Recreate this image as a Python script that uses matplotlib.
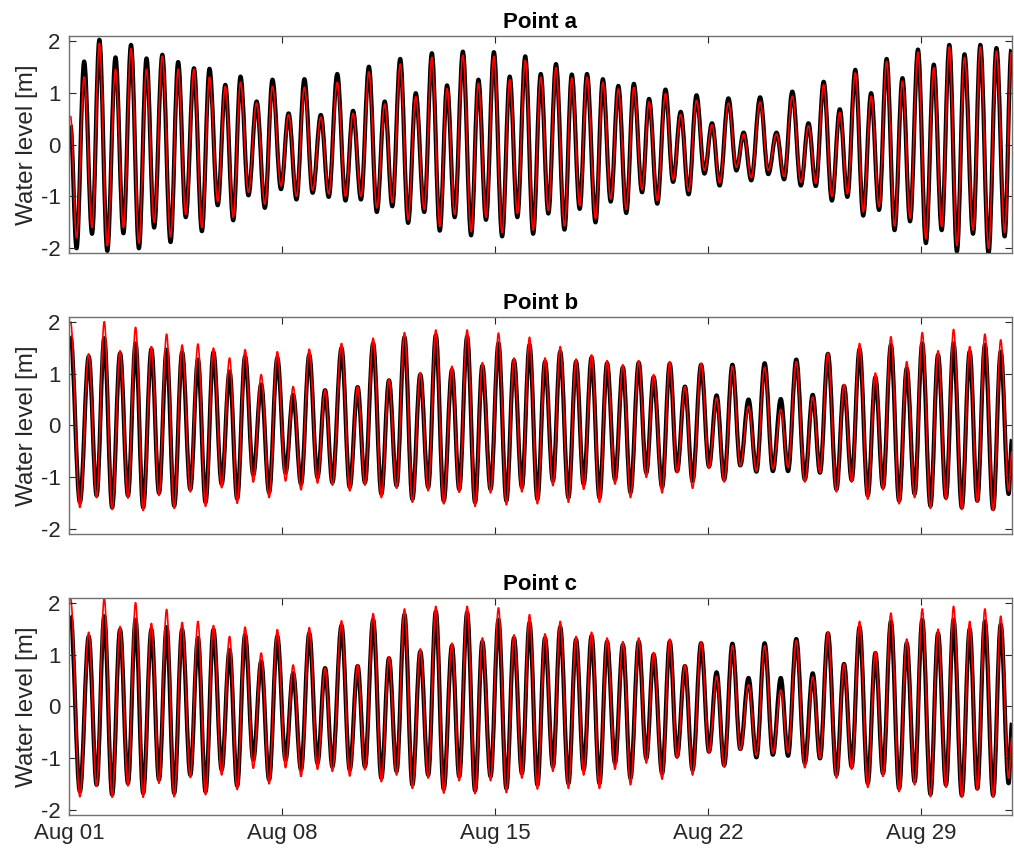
import matplotlib
matplotlib.use("Agg")
import matplotlib.pyplot as plt
from matplotlib.path import Path
from matplotlib.patches import PathPatch

plt.rcParams['font.family'] = ['Liberation Sans', 'DejaVu Sans']

# times of the turning points (days after Aug 01 00:00)
time_a = [0.05, 0.25, 0.50, 0.76, 1.00, 1.26, 1.53, 1.79, 2.04, 2.30, 2.55, 2.80,
          3.07, 3.34, 3.59, 3.84, 4.11, 4.37, 4.62, 4.89, 5.14, 5.40, 5.64, 5.90,
          6.17, 6.44, 6.69, 6.97, 7.22, 7.48, 7.74, 8.01, 8.28, 8.54, 8.82,
          9.09, 9.34, 9.60, 9.86, 10.12, 10.38, 10.63, 10.89, 11.15, 11.40, 11.68,
          11.93, 12.19, 12.43, 12.68, 12.95, 13.22, 13.46, 13.71, 13.97, 14.24,
          14.49, 14.74, 15.00, 15.26, 15.51, 15.76, 16.01, 16.29, 16.53, 16.79,
          17.03, 17.31, 17.55, 17.81, 18.06, 18.32, 18.57, 18.84, 19.07, 19.34, 19.61,
          19.86, 20.11, 20.37, 20.63, 20.89, 21.14, 21.39, 21.68, 21.94, 22.18,
          22.43, 22.72, 22.99, 23.26, 23.51, 23.78, 24.06, 24.31, 24.55, 24.81,
          25.08, 25.34, 25.59, 25.85, 26.11, 26.37, 26.63, 26.88, 27.14, 27.40,
          27.65, 27.91, 28.17, 28.43, 28.69, 28.94, 29.19, 29.44, 29.72, 29.96,
          30.23, 30.49, 30.76, 30.98]

time_bc = [0.05, 0.36, 0.65, 0.91, 1.16, 1.42, 1.68, 1.94, 2.19, 2.44, 2.71, 2.96,
           3.21, 3.46, 3.72, 3.99, 4.24, 4.49, 4.75, 5.02, 5.28, 5.53, 5.79, 6.06,
           6.32, 6.58, 6.85, 7.12, 7.37, 7.63, 7.90, 8.17, 8.42,
           8.66, 8.96, 9.23, 9.49, 9.73, 10.00, 10.27, 10.52, 10.77, 11.03, 11.29,
           11.55, 11.81, 12.06, 12.32, 12.59, 12.83, 13.09, 13.35, 13.59, 13.86,
           14.12, 14.38, 14.63, 14.89, 15.14, 15.40, 15.65, 15.91, 16.15, 16.42,
           16.67, 16.92, 17.18, 17.44, 17.69, 17.95, 18.21, 18.46, 18.73, 18.98,
           19.22, 19.50,
           19.75, 19.99, 20.25, 20.50, 20.78, 21.04, 21.29, 21.54, 21.81, 22.07,
           22.34, 22.60, 22.87, 23.14, 23.40, 23.64, 23.91, 24.19, 24.45, 24.69,
           24.95, 25.23, 25.48, 25.73, 25.99, 26.26, 26.51, 26.76, 27.02, 27.29,
           27.54, 27.80, 28.05, 28.32, 28.57, 28.83, 29.08, 29.35, 29.61, 29.86,
           30.11, 30.38, 30.63, 30.89, 31.00]

# Point a
obs_a = [0.37, -2.0, 1.6, -1.72, 2.02, -2.05, 1.68, -1.71, 1.92, -2.0, 1.66, -1.6,
         1.73, -1.88, 1.59, -1.4, 1.47, -1.67, 1.46, -1.17, 1.15, -1.46, 1.31, -0.98,
         0.83, -1.22, 1.25, -0.86, 0.6, -1.06, 1.26, -0.93, 0.57, -1.01, 1.36,
         -1.08, 0.65, -1.06, 1.5, -1.3, 0.83, -1.19, 1.65, -1.51, 0.99, -1.3, 1.76,
         -1.66, 1.14, -1.4, 1.79, -1.75, 1.25, -1.45, 1.78, -1.77, 1.31, -1.4, 1.7,
         -1.72, 1.36, -1.33, 1.55, -1.64, 1.35, -1.24, 1.36, -1.5, 1.26, -1.1, 1.13,
         -1.32, 1.17, -0.92, 0.88, -1.14, 1.06,
         -0.72, 0.63, -0.96, 0.95, -0.56, 0.41, -0.79, 0.89, -0.5, 0.23, -0.69, 0.91,
         -0.57, 0.23, -0.67, 1.02, -0.79, 0.41, -0.8, 1.21, -1.08, 0.68, -1.01, 1.44,
         -1.37, 0.99, -1.26, 1.65, -1.65, 1.28, -1.48, 1.83, -1.9, 1.54, -1.65, 1.92,
         -2.06, 1.74, -1.72, 1.92, -2.1, 1.86, -1.77, 1.83]
model_a = [0.55, -1.8, 1.3, -1.6, 1.95, -1.95, 1.45, -1.6, 1.85, -1.9, 1.45, -1.5,
           1.7, -1.78, 1.45, -1.35, 1.45, -1.6, 1.3, -1.1, 1.12, -1.4, 1.2, -0.92,
           0.8, -1.15, 1.12, -0.8, 0.58, -1.0, 1.1, -0.88, 0.53, -0.95, 1.2,
           -1.0, 0.6, -1.0, 1.4, -1.22, 0.78, -1.12, 1.55, -1.45, 0.92, -1.25, 1.68,
           -1.58, 1.08, -1.35, 1.72, -1.68, 1.18, -1.4, 1.7, -1.7, 1.25, -1.33, 1.62,
           -1.65, 1.3, -1.27, 1.48, -1.57, 1.28, -1.18, 1.3, -1.43, 1.2, -1.05, 1.07,
           -1.25, 1.1, -0.87, 0.82, -1.08, 0.98,
           -0.68, 0.58, -0.9, 0.85, -0.5, 0.38, -0.74, 0.8, -0.44, 0.2, -0.64, 0.82,
           -0.5, 0.2, -0.62, 0.93, -0.73, 0.36, -0.75, 1.15, -1.0, 0.62, -0.95, 1.38,
           -1.3, 0.93, -1.2, 1.6, -1.57, 1.22, -1.42, 1.78, -1.82, 1.48, -1.58, 1.88,
           -1.95, 1.68, -1.65, 1.88, -2.0, 1.8, -1.7, 1.78]

# Point b
obs_b = [1.72, -1.48, 1.33, -1.35, 1.68, -1.58, 1.39, -1.35, 1.58, -1.58, 1.47, -1.3,
         1.46, -1.55, 1.41, -1.23, 1.27, -1.48, 1.41, -1.13, 1.04, -1.41, 1.33, -0.95,
         0.79, -1.29, 1.3, -0.91, 0.59, -1.13, 1.36, -1.0, 0.68,
         -1.1, 1.49, -1.19, 0.74, -1.1, 1.58, -1.32, 0.87, -1.16, 1.7, -1.42, 0.98,
         -1.19, 1.74, -1.45, 1.07, -1.23, 1.71, -1.48, 1.15, -1.23, 1.58, -1.45, 1.25,
         -1.19, 1.55, -1.42, 1.23, -1.07, 1.42, -1.39, 1.23, -1.13, 1.31, -1.39, 1.2,
         -1.04, 1.12, -1.29, 1.21, -0.91, 0.93, -1.19,
         1.19, -0.88, 0.75, -1.07, 1.17, -0.79, 0.58, -1.04, 1.17, -0.77, 0.5, -0.89,
         1.2, -0.88, 0.51, -0.88, 1.27, -1.04, 0.59, -0.91, 1.38, -1.23, 0.76, -1.05,
         1.47, -1.35, 0.93, -1.19, 1.55, -1.45, 1.1, -1.32, 1.58, -1.55, 1.36, -1.39,
         1.58, -1.58, 1.42, -1.45, 1.55, -1.61, 1.42, -1.32, -0.27]
model_b = [2.0, -1.58, 1.38, -1.39, 2.0, -1.62, 1.44, -1.4, 1.89, -1.64, 1.52, -1.35,
           1.76, -1.6, 1.55, -1.28, 1.57, -1.56, 1.49, -1.2, 1.3, -1.5, 1.46, -1.09,
           0.98, -1.39, 1.42, -1.07, 0.75, -1.24, 1.47, -1.11, 0.69,
           -1.15, 1.58, -1.26, 0.75, -1.15, 1.68, -1.39, 0.89, -1.21, 1.79, -1.48, 1.02,
           -1.26, 1.84, -1.51, 1.14, -1.29, 1.84, -1.56, 1.21, -1.3, 1.78, -1.53, 1.3,
           -1.28, 1.7, -1.51, 1.3, -1.16, 1.52, -1.48, 1.28, -1.23, 1.36, -1.48, 1.25,
           -1.13, 1.17, -1.39, 1.25, -1.0, 0.98, -1.3,
           1.23, -0.91, 0.75, -1.21, 1.2, -0.83, 0.53, -1.09, 1.14, -0.78, 0.37, -0.88,
           1.12, -0.84, 0.31, -0.81, 1.23, -1.09, 0.55, -0.91, 1.39, -1.28, 0.79, -1.09,
           1.58, -1.42, 1.01, -1.24, 1.71, -1.51, 1.23, -1.39, 1.79, -1.6, 1.44, -1.43,
           1.85, -1.62, 1.52, -1.48, 1.76, -1.64, 1.65, -1.26, -0.5]

# Point c
obs_c = [1.75, -1.64, 1.35, -1.51, 1.74, -1.7, 1.48, -1.48, 1.67, -1.67, 1.48, -1.41,
         1.53, -1.67, 1.48, -1.32, 1.32, -1.64, 1.48, -1.22, 1.09, -1.53, 1.38, -1.03,
         0.87, -1.41, 1.35, -1.03, 0.64, -1.22, 1.41, -1.09, 0.74,
         -1.16, 1.56, -1.22, 0.78, -1.16, 1.67, -1.38, 0.93, -1.25, 1.77, -1.51, 1.06,
         -1.32, 1.83, -1.59, 1.17, -1.35, 1.81, -1.62, 1.25, -1.35, 1.67, -1.58, 1.32,
         -1.29, 1.61, -1.51, 1.32, -1.16, 1.53, -1.48, 1.29, -1.22, 1.36, -1.48, 1.25,
         -1.09, 1.19, -1.38, 1.25, -1.0, 1.0, -1.29,
         1.25, -0.96, 0.78, -1.22, 1.22, -0.87, 0.66, -1.13, 1.21, -0.82, 0.55, -0.98,
         1.22, -0.93, 0.55, -0.95, 1.3, -1.09, 0.64, -1.0, 1.41, -1.32, 0.82, -1.16,
         1.53, -1.48, 1.03, -1.29, 1.64, -1.58, 1.22, -1.45, 1.67, -1.69, 1.41, -1.51,
         1.67, -1.71, 1.49, -1.58, 1.64, -1.71, 1.58, -1.48, -0.32]
model_c = [2.09, -1.74, 1.43, -1.54, 2.09, -1.75, 1.54, -1.53, 2.0, -1.75, 1.6, -1.48,
           1.87, -1.74, 1.62, -1.37, 1.64, -1.7, 1.56, -1.32, 1.35, -1.6, 1.53, -1.19,
           1.03, -1.49, 1.48, -1.18, 0.8, -1.35, 1.52, -1.21, 0.74,
           -1.25, 1.65, -1.34, 0.8, -1.22, 1.79, -1.45, 0.96, -1.32, 1.88, -1.58, 1.11,
           -1.38, 1.93, -1.67, 1.22, -1.43, 1.93, -1.68, 1.32, -1.43, 1.9, -1.66, 1.38,
           -1.38, 1.77, -1.59, 1.4, -1.25, 1.64, -1.58, 1.35, -1.32, 1.43, -1.58, 1.32,
           -1.21, 1.25, -1.51, 1.32, -1.09, 1.04, -1.4,
           1.3, -1.0, 0.8, -1.32, 1.25, -0.9, 0.58, -1.17, 1.17, -0.84, 0.42, -0.95,
           1.17, -0.9, 0.32, -0.89, 1.27, -1.18, 0.57, -1.0, 1.43, -1.38, 0.82, -1.21,
           1.64, -1.56, 1.06, -1.35, 1.8, -1.64, 1.3, -1.51, 1.88, -1.74, 1.49, -1.56,
           1.93, -1.75, 1.64, -1.61, 1.88, -1.75, 1.74, -1.38, -0.6]

titles = ["Point a", "Point b", "Point c"]
tick_days = [0, 7, 14, 21, 28]
tick_labels = ["Aug 01", "Aug 08", "Aug 15", "Aug 22", "Aug 29"]
y_ticks = [-2, -1, 0, 1, 2]


def tide_curve(ax, t, v, color, lw):
    # smooth curve through the turning points (flat tangent at each one)
    verts = [(t[0], v[0])]
    codes = [Path.MOVETO]
    for k in range(len(t) - 1):
        dt = t[k + 1] - t[k]
        verts += [(t[k] + 0.364 * dt, v[k]), (t[k + 1] - 0.364 * dt, v[k + 1]),
                  (t[k + 1], v[k + 1])]
        codes += [Path.CURVE4] * 3
    patch = PathPatch(Path(verts, codes), facecolor="none", edgecolor=color,
                      linewidth=lw, transform=ax.transData, joinstyle="round")
    ax.add_patch(patch)


panels = [
    (time_a, obs_a, model_a),
    (time_bc, obs_b, model_b),
    (time_bc, obs_c, model_c),
]

fig = plt.figure(figsize=(10.14, 8.56), dpi=100)
bottoms = [0.7044, 0.3762, 0.0479]
axis_col = "#262626"

for i, (t, obs, mod) in enumerate(panels):
    ax = fig.add_axes([0.068, bottoms[i], 0.930, 0.2535])
    tide_curve(ax, t, obs, "black", 3.0)
    tide_curve(ax, t, mod, "red", 1.2)
    ax.set_xlim(0, 31)
    ax.set_ylim(-2.09, 2.09)
    ax.set_yticks(y_ticks)
    ax.set_yticklabels([str(v) for v in y_ticks])
    ax.set_xticks(tick_days)
    if i == 2:
        ax.set_xticklabels(tick_labels)
    else:
        ax.set_xticklabels([])
    ax.tick_params(direction="in", length=5, width=0.8, top=True, right=True,
                   labelsize=16, colors=axis_col, pad=6)
    for s in ax.spines.values():
        s.set_color("#707070")
        s.set_linewidth(1.0)
    ax.set_ylabel("Water level [m]", fontsize=17.5, color=axis_col, labelpad=2)
    ax.set_title(titles[i], fontsize=16, fontweight="bold", pad=6)

fig.savefig("out.png", dpi=100)
